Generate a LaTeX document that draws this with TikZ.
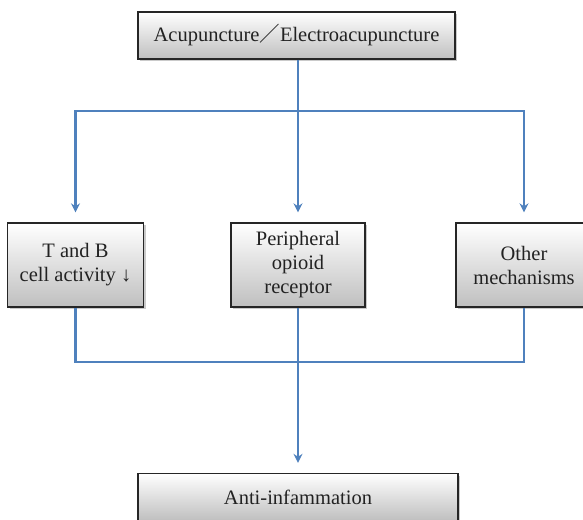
\documentclass[tikz,border=0pt]{standalone}
\usepackage{fontspec}
\setmainfont{Liberation Serif}
\newfontfamily\cjkfont{Noto Sans CJK SC}
\usetikzlibrary{arrows.meta,shadows}
\definecolor{linkblue}{HTML}{4F81BD}
\definecolor{boxedge}{HTML}{262626}
\definecolor{boxtext}{HTML}{222222}
\tikzset{
  box/.style={draw=boxedge, line width=1.3pt, top color=white, bottom color=black!25,
    text=boxtext, align=center, inner sep=0pt,
    font=\fontsize{20.5}{24}\selectfont,
    drop shadow={shadow xshift=2pt, shadow yshift=-2pt, opacity=0.35, fill=black!60}},
  link/.style={draw=linkblue, line width=2.3pt},
  linkarrow/.style={link, -{Stealth[length=9pt,width=9pt]}, shorten >=10pt},
}
\begin{document}
\begin{tikzpicture}[x=1pt,y=-1pt]
  \useasboundingbox (0,0) rectangle (583,519);
  % boxes
  \node[box, minimum width=317pt, minimum height=47pt] (top) at (296.5,35.5)
    {Acupuncture{\cjkfont ／}Electroacupuncture};
  \node[box, minimum width=136pt, minimum height=84pt] (left) at (75.5,265)
    {T and B\\cell activity ↓};
  \node[box, minimum width=134pt, minimum height=84pt] (mid) at (298,265)
    {Peripheral\\opioid\\receptor};
  \node[box, minimum width=136pt, minimum height=84pt] (right) at (524,265)
    {Other\\mechanisms};
  \node[box, minimum width=320pt, minimum height=47pt] (bot) at (298,497)
    {Anti-infammation};
  % junction points
  \coordinate (jt) at (298,111);
  \coordinate (jb) at (298,362);
  % fan out
  \draw[link] (top.south -| jt) -- (jt);
  \draw[link, line cap=rect] (left.north |- jt) -- (right.north |- jt);
  \draw[linkarrow] (left.north |- jt) -- (left.north);
  \draw[linkarrow] (jt) -- (mid.north);
  \draw[linkarrow] (right.north |- jt) -- (right.north);
  % gather
  \draw[link] (left.south) -- (left.south |- jb) -- (right.south |- jb) -- (right.south);
  \draw[link] (mid.south) -- (jb);
  \draw[linkarrow] (jb) -- (bot.north);
\end{tikzpicture}
\end{document}
